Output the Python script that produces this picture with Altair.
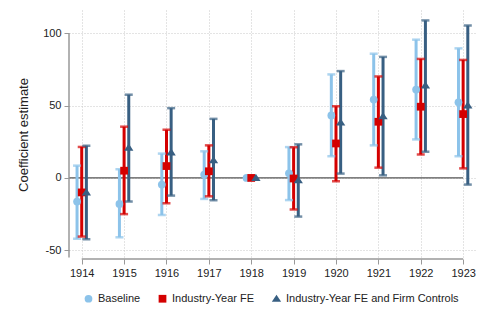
import altair as alt
import pandas as pd

years = [1914, 1915, 1916, 1917, 1918, 1919, 1920, 1921, 1922, 1923]
series = ["Baseline", "Industry-Year FE", "Industry-Year FE and Firm Controls"]
offsets = [-0.11, 0.0, 0.11]

base_est = [-16.3, -18.0, -4.6, 2.3, 0.0, 3.2, 43.2, 54.1, 61.0, 52.2]
base_lo = [-42.0, -41.0, -25.6, -14.5, 0.0, -15.3, 15.0, 22.5, 26.6, 15.0]
base_hi = [8.5, 6.0, 16.8, 18.4, 0.0, 21.3, 71.5, 85.8, 95.5, 89.5]

ind_est = [-10.0, 5.0, 8.2, 4.6, 0.0, -0.4, 23.8, 38.8, 49.2, 44.1]
ind_lo = [-40.5, -25.0, -17.5, -12.7, 0.0, -21.8, -2.3, 7.1, 16.2, 6.6]
ind_hi = [21.4, 35.4, 33.3, 22.5, 0.0, 21.2, 49.5, 70.1, 82.2, 81.5]

firm_est = [-10.0, 21.0, 17.7, 12.2, 0.0, -1.6, 38.3, 42.6, 63.9, 50.1]
firm_lo = [-42.3, -16.3, -12.2, -15.4, 0.0, -26.7, 3.0, 1.8, 18.1, -4.6]
firm_hi = [22.3, 57.5, 48.2, 40.8, 0.0, 23.2, 73.8, 83.6, 108.8, 105.3]

colors = ["#8cc3ea", "#d40000", "#385f82"]
shapes = ["circle", "square", "M0,-1.05L1.2,0.8L-1.2,0.8Z"]

rows = []
for s, off, est, lo, hi in zip(series, offsets,
                               [base_est, ind_est, firm_est],
                               [base_lo, ind_lo, firm_lo],
                               [base_hi, ind_hi, firm_hi]):
    for y, e, l, h in zip(years, est, lo, hi):
        rows.append({"year": y, "xpos": y + off, "series": s, "est": e, "lo": l, "hi": h})
df = pd.DataFrame(rows)
df_ci = df[df["year"] != 1918]

xscale = alt.Scale(domain=[1913.7, 1923.28], nice=False, zero=False)
yscale = alt.Scale(domain=[-56, 116], nice=False, zero=False)
cscale = alt.Scale(domain=series, range=colors)
sscale = alt.Scale(domain=series, range=shapes)

font = "Liberation Sans"

legend = alt.Legend(title=None, orient="none", direction="horizontal",
                    legendX=14, legendY=283, labelFont=font,
                    labelFontSize=11, labelColor="#222222", labelLimit=400,
                    columnPadding=16, symbolOpacity=1, symbolStrokeWidth=0,
                    symbolSize=60)

X = alt.X("xpos:Q", scale=xscale, title=None,
          axis=alt.Axis(values=years, format="d", grid=True, gridDash=[1, 2],
                        gridColor="#c8c8c8", domain=False, tickColor="#999999",
                        tickSize=5, labelFontSize=11, labelColor="#222222",
                        labelFont=font, labelPadding=3))
Y = alt.Y("est:Q", scale=yscale, title="Coefficient estimate",
          axis=alt.Axis(values=[-50, 0, 50, 100], grid=True, gridDash=[1, 2],
                        gridColor="#c8c8c8", domain=False, tickColor="#999999",
                        tickSize=5, labelFontSize=11, labelColor="#222222",
                        labelFont=font, labelPadding=3, titleFont=font,
                        titleFontSize=13, titleFontWeight="normal",
                        titleColor="#222222", titlePadding=12,
                        labelExpr="replace(datum.label, '−', '-')"))

C = alt.Color("series:N", scale=cscale, legend=legend)

zero_line = alt.Chart(pd.DataFrame({"a": [0]})).mark_rule(color="#555555", strokeWidth=1.2).encode(
    x=alt.datum(1913.7, scale=xscale), x2=alt.datum(1923), y=alt.datum(0, scale=yscale))

yaxis_line = alt.Chart(pd.DataFrame({"a": [0]})).mark_rule(color="#999999", strokeWidth=1.5).encode(
    x=alt.value(0), y=alt.datum(100, scale=yscale), y2=alt.datum(-55))

xaxis_line = alt.Chart(pd.DataFrame({"a": [0]})).mark_rule(color="#999999", strokeWidth=1.5).encode(
    x=alt.datum(1914, scale=xscale), x2=alt.datum(1923), y=alt.value(249))

bars = alt.Chart(df_ci).mark_rule(strokeWidth=3).encode(
    x=X, y=alt.Y("lo:Q", scale=yscale), y2="hi:Q", color=C)

caps_lo = alt.Chart(df_ci).mark_tick(orient="horizontal", size=8, thickness=2.5).encode(
    x=X, y=alt.Y("lo:Q", scale=yscale), color=C)
caps_hi = alt.Chart(df_ci).mark_tick(orient="horizontal", size=8, thickness=2.5).encode(
    x=X, y=alt.Y("hi:Q", scale=yscale), color=C)

points = alt.Chart(df).mark_point(filled=True, opacity=1, size=60).encode(
    x=X, y=Y, color=C,
    shape=alt.Shape("series:N", scale=sscale, legend=legend))

chart = alt.layer(zero_line, bars, caps_lo, caps_hi, points, yaxis_line, xaxis_line).properties(
    width=406, height=249,
    autosize=alt.AutoSizeParams(type="none"),
    padding={"left": 61, "top": 2, "right": 5, "bottom": 58},
).configure_view(stroke=None)

chart.save("out.html", embed_options={"renderer": "svg", "actions": False})
